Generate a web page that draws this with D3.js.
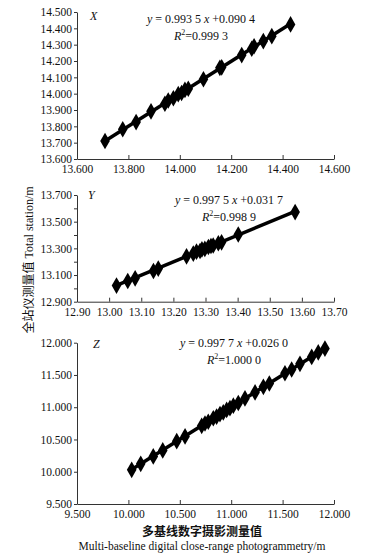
<!DOCTYPE html>
<html lang="zh">
<head>
    <meta charset="UTF-8">
    <title>全站仪与多基线数字摄影测量对比</title>
    <script src="https://d3js.org/d3.v7.min.js"></script>
    <style>
        body { margin: 0; background: #fff; }
        svg text { font-family: "Liberation Serif", "DejaVu Serif", serif; fill: #111; }
        .tick text { font-size: 11.5px; }
        .axis path, .axis line { stroke: #333; stroke-width: 1px; }
        .cjk { font-family: "Noto Sans CJK SC", sans-serif !important; }
    </style>
</head>
<body>
    <svg width="365" height="558"></svg>

    <script>
        // X 坐标
        const xMeasX = [13.709, 13.778, 13.830, 13.888, 13.942, 13.955, 13.975, 13.994, 14.007, 14.020,
                        14.033, 14.092, 14.156, 14.163, 14.241, 14.280, 14.289, 14.325, 14.358, 14.431];
        const xMeasY = [13.710, 13.782, 13.826, 13.892, 13.938, 13.958, 13.972, 13.997, 14.004, 14.023,
                        14.030, 14.088, 14.158, 14.161, 14.236, 14.275, 14.290, 14.322, 14.352, 14.424];
        // Y 坐标
        const yMeasX = [13.023, 13.058, 13.081, 13.138, 13.153, 13.241, 13.262, 13.272, 13.283, 13.289,
                        13.298, 13.309, 13.317, 13.324, 13.340, 13.350, 13.402, 13.579];
        const yMeasY = [13.021, 13.055, 13.075, 13.130, 13.148, 13.240, 13.261, 13.275, 13.280, 13.292,
                        13.296, 13.310, 13.318, 13.321, 13.338, 13.345, 13.404, 13.572];
        // Z 坐标
        const zMeasX = [10.032, 10.120, 10.242, 10.334, 10.470, 10.551, 10.713, 10.745, 10.777, 10.826,
                        10.858, 10.891, 10.923, 10.956, 10.988, 11.021, 11.069, 11.134, 11.232, 11.313,
                        11.371, 11.523, 11.588, 11.669, 11.783, 11.847, 11.912];
        const zMeasY = [10.030, 10.122, 10.238, 10.330, 10.474, 10.548, 10.712, 10.748, 10.775, 10.829,
                        10.855, 10.893, 10.920, 10.958, 10.985, 11.024, 11.066, 11.137, 11.229, 11.316,
                        11.368, 11.527, 11.585, 11.672, 11.780, 11.850, 11.909];

        const panelNames = ["X", "Y", "Z"];
        const slopes = [0.9935, 0.9975, 0.9977];
        const intercepts = [0.0904, 0.0317, 0.0260];
        const slopeText = ["0.993 5", "0.997 5", "0.997 7"];
        const interceptText = ["0.090 4", "0.031 7", "0.026 0"];
        const r2Text = ["0.999 3", "0.998 9", "1.000 0"];
        const xDomains = [[13.6, 14.6], [12.9, 13.7], [9.5, 12.0]];
        const yDomains = [[13.6, 14.5], [12.9, 13.7], [9.5, 12.0]];
        const xTickStep = [0.2, 0.1, 0.5];
        const yTickStep = [0.1, 0.1, 0.5];
        const xTickFmt = [".3f", ".2f", ".3f"];

        const svg = d3.select("svg");

        // 面板布局（像素）
        const layout = [
            { top: 12, bottom: 159, eqX: 201, eqY: 23, labX: 90, labY: 20 },
            { top: 195, bottom: 301.7, eqX: 229, eqY: 204, labX: 88, labY: 199 },
            { top: 342.7, bottom: 504, eqX: 234, eqY: 347, labX: 93, labY: 348 }
        ];
        const left = 77, right = 334;

        const series = [
            d3.zip(xMeasX, xMeasY),
            d3.zip(yMeasX, yMeasY),
            d3.zip(zMeasX, zMeasY)
        ];

        const diamond = d3.symbol().type(d3.symbolDiamond).size(80);

        series.forEach((pts, i) => {
            const L = layout[i];
            const [x0, x1] = xDomains[i];
            const [y0, y1] = yDomains[i];
            const x = d3.scaleLinear().domain([x0, x1]).range([left, right]);
            const y = d3.scaleLinear().domain([y0, y1]).range([L.bottom, L.top]);

            const xt = d3.range(x0, x1 + 1e-6, xTickStep[i]);
            const yt = d3.range(y0, y1 + 1e-6, yTickStep[i]);

            const g = svg.append("g");

            g.append("g")
                .attr("class", "axis")
                .attr("transform", `translate(0,${L.bottom})`)
                .call(d3.axisBottom(x).tickValues(xt).tickFormat(d3.format(xTickFmt[i]))
                    .tickSizeInner(-4).tickSizeOuter(0).tickPadding(6));

            // Y 面板有次刻度，只标注每 0.2
            const yAxis = d3.axisLeft(y).tickValues(yt).tickSizeInner(3).tickSizeOuter(0).tickPadding(2)
                .tickFormat(d => {
                    if (i === 1 && Math.round((d - y0) * 10) % 2 === 1) return "";
                    return d3.format(".3f")(d);
                });
            g.append("g")
                .attr("class", "axis")
                .attr("transform", `translate(${left},0)`)
                .call(yAxis);

            g.selectAll(".axis text").attr("fill", "#111");

            // 趋势线
            const xmin = d3.min(pts, p => p[0]);
            const xmax = d3.max(pts, p => p[0]);
            g.append("line")
                .attr("x1", x(xmin)).attr("y1", y(slopes[i] * xmin + intercepts[i]))
                .attr("x2", x(xmax)).attr("y2", y(slopes[i] * xmax + intercepts[i]))
                .attr("stroke", "#000").attr("stroke-width", 3.5);

            g.selectAll("path.pt")
                .data(pts)
                .enter().append("path")
                .attr("class", "pt")
                .attr("d", diamond)
                .attr("transform", p => `translate(${x(p[0])},${y(p[1])})`)
                .attr("fill", "#000");

            // 面板字母
            g.append("text")
                .attr("x", L.labX).attr("y", L.labY)
                .style("font-size", "12px").style("font-style", "italic")
                .text(panelNames[i]);

            // 回归方程
            const eq = g.append("text")
                .attr("x", L.eqX).attr("y", L.eqY)
                .attr("text-anchor", "middle")
                .style("font-size", "12px");
            eq.append("tspan").style("font-style", "italic").text("y");
            eq.append("tspan").text(` = ${slopeText[i]} `);
            eq.append("tspan").style("font-style", "italic").text("x");
            eq.append("tspan").text(` +${interceptText[i]}`);

            const r2 = g.append("text")
                .attr("x", L.eqX).attr("y", L.eqY + 17)
                .attr("text-anchor", "middle")
                .style("font-size", "12px");
            r2.append("tspan").style("font-style", "italic").text("R");
            r2.append("tspan").attr("dy", -5).style("font-size", "8px").text("2");
            r2.append("tspan").attr("dy", 5).text(`=${r2Text[i]}`);
        });

        // 轴标题
        svg.append("text")
            .attr("transform", "translate(33,260) rotate(-90)")
            .attr("text-anchor", "middle")
            .style("font-size", "12px")
            .call(t => {
                t.append("tspan").attr("class", "cjk").text("全站仪测量值");
                t.append("tspan").text(" Total station/m");
            });

        svg.append("text")
            .attr("class", "cjk")
            .attr("x", 202).attr("y", 536)
            .attr("text-anchor", "middle")
            .style("font-size", "12px").style("font-weight", "bold")
            .text("多基线数字摄影测量值");

        svg.append("text")
            .attr("x", 202).attr("y", 550)
            .attr("text-anchor", "middle")
            .style("font-size", "11.5px")
            .text("Multi-baseline digital close-range photogrammetry/m");
    </script>
</body>
</html>
